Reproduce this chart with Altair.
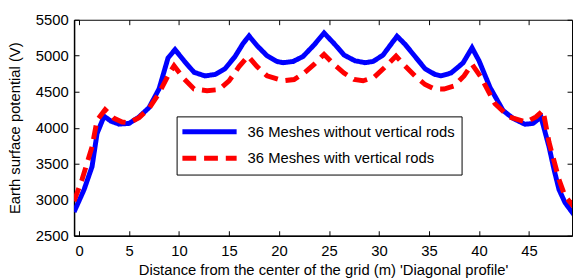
import altair as alt
import pandas as pd

# Blue: 36 Meshes without vertical rods
x_blue = [-0.5, 0.5, 1.3, 1.8, 2.5, 3.2, 4.0, 5.0, 6.0, 7.0, 8.0, 8.9, 9.6, 10.5, 11.5, 12.6,
          13.6, 14.6, 15.6, 16.4, 17.0, 17.8, 18.8, 19.8, 20.4, 21.4, 22.4, 23.5, 24.5, 25.5,
          26.5, 27.6, 28.6, 29.4, 30.4, 31.2, 31.8, 32.6, 33.6, 34.6, 35.6, 36.2, 37.2, 38.4,
          39.3, 40.0, 41.1, 42.4, 43.4, 44.6, 45.4, 46.2, 47.0, 47.5, 48.0, 48.6, 49.5]
v_blue = [2830, 3140, 3460, 3920, 4160, 4090, 4050, 4060, 4150, 4280, 4540, 4970, 5085, 4930,
          4770, 4720, 4740, 4820, 4990, 5170, 5275, 5140, 5000, 4920, 4904, 4920, 4990, 5150,
          5316, 5170, 5010, 4930, 4904, 4920, 5010, 5160, 5271, 5160, 4990, 4820, 4740, 4721,
          4760, 4900, 5110, 4930, 4560, 4240, 4130, 4048, 4060, 4148, 3736, 3420, 3141, 2960, 2790]

# Red dashed: 36 Meshes with vertical rods
x_red = [-0.5, 0.3, 1.3, 1.8, 2.6, 3.5, 4.3, 5.0, 6.0, 7.0, 8.0, 9.0, 9.5, 10.5, 11.5, 12.8,
         14.0, 15.0, 16.0, 16.9, 17.8, 18.8, 20.4, 21.5, 22.5, 23.5, 24.5, 25.5, 26.5, 27.5,
         28.4, 29.5, 30.5, 31.7, 32.6, 33.6, 34.6, 35.5, 36.5, 37.5, 38.5, 39.3, 40.2, 41.6,
         43.0, 44.7, 45.7, 46.4, 47.0, 48.0, 48.6, 49.5]
v_red = [2980, 3280, 3736, 4103, 4250, 4130, 4080, 4070, 4140, 4270, 4480, 4750, 4860, 4680,
         4538, 4515, 4530, 4650, 4850, 4996, 4850, 4720, 4652, 4670, 4760, 4880, 5019, 4880,
         4760, 4670, 4652, 4700, 4830, 4996, 4860, 4720, 4600, 4540, 4538, 4580, 4720, 4882,
         4700, 4333, 4150, 4080, 4150, 4240, 3800, 3279, 3050, 2900]

series_names = ["36 Meshes without vertical rods", "36 Meshes with vertical rods"]
x_ticks = [0, 5, 10, 15, 20, 25, 30, 35, 40, 45]
y_ticks = [2500, 3000, 3500, 4000, 4500, 5000, 5500]

df = pd.concat([
    pd.DataFrame({"x": x_blue, "v": v_blue, "series": series_names[0], "o": range(len(x_blue))}),
    pd.DataFrame({"x": x_red, "v": v_red, "series": series_names[1], "o": range(len(x_red))}),
])

FONT = "Liberation Sans"

legend_props = dict(
    title=None, orient="none", legendX=104, legendY=98,
    symbolType="M-1.4,0H6.6", symbolSize=189, symbolStrokeWidth=5,
    labelFontSize=15, labelFont=FONT, labelColor="black", labelOffset=47, labelLimit=500,
    strokeColor="black", padding=6, rowPadding=6, fillColor="white",
)

xs = alt.Scale(domain=[-0.5, 49.3], nice=False)
ys = alt.Scale(domain=[2500, 5500], nice=False)

base = alt.Chart(df).mark_line(strokeWidth=5, clip=True).encode(
    order="o:Q",
    color=alt.Color("series:N", scale=alt.Scale(domain=series_names, range=["#0000ff", "#ff0000"]),
                    legend=alt.Legend(**legend_props)),
    strokeDash=alt.StrokeDash("series:N", scale=alt.Scale(domain=series_names, range=[[1, 0], [14, 8]]),
                              legend=alt.Legend(**legend_props)),
)

main = base.encode(
    x=alt.X("x:Q", scale=xs, axis=alt.Axis(
        orient="bottom", values=x_ticks, format="d",
        title="Distance from the center of the grid (m) 'Diagonal profile'",
        tickSize={"expr": "-5"}, labelPadding=13, titlePadding=4, grid=False)),
    y=alt.Y("v:Q", scale=ys, axis=alt.Axis(
        orient="left", values=y_ticks, format="d", title="Earth surface potential (V)",
        tickSize={"expr": "-5"}, labelPadding=11, titlePadding=13, grid=False)),
)

ghost = alt.Chart(df).mark_line(opacity=0).encode(
    x=alt.X("x:Q", scale=xs, axis=alt.Axis(orient="top", values=x_ticks, labels=False, title=None,
                                           tickSize={"expr": "-5"}, grid=False, domain=False)),
    y=alt.Y("v:Q", scale=ys, axis=alt.Axis(orient="right", values=y_ticks, labels=False, title=None,
                                           tickSize={"expr": "-5"}, grid=False, domain=False)),
    detail="series:N",
)

chart = alt.layer(main, ghost).resolve_axis(x="independent", y="independent").properties(
    width=505, height=219,
    autosize=alt.AutoSizeParams(type="none"),
    padding={"left": 67, "top": 10, "right": 1, "bottom": 43},
).configure_view(stroke="black", strokeWidth=1).configure_axis(
    labelFont=FONT, titleFont=FONT, labelFontSize=15, titleFontSize=15,
    labelColor="black", titleColor="black", titleFontWeight="normal",
    domainColor="black", tickColor="black", domainWidth=1.5, tickWidth=1,
)

chart.save("out.html", embed_options={"renderer": "svg", "actions": False})
